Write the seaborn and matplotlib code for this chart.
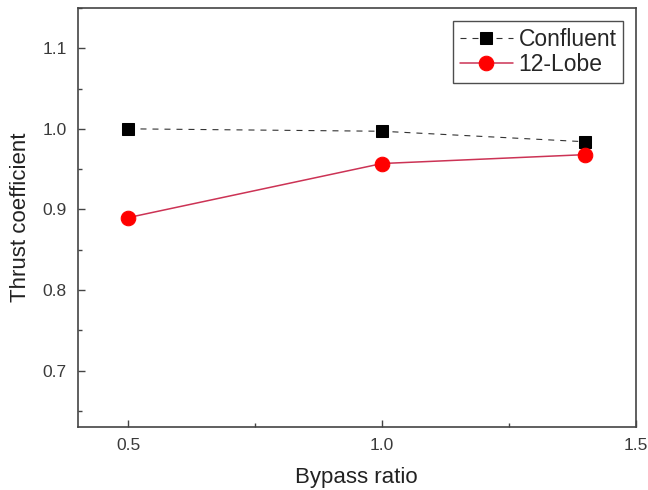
import matplotlib
matplotlib.use("Agg")
import matplotlib.pyplot as plt
from matplotlib.ticker import MultipleLocator
import seaborn as sns
import pandas as pd

# Thrust coefficient versus bypass ratio for two mixer configurations
bypass_ratio = [0.5, 1.0, 1.4]
confluent = [1.000, 0.997, 0.984]
lobe12 = [0.890, 0.957, 0.968]
series_names = ["Confluent", "12-Lobe"]

df = pd.concat([
    pd.DataFrame({"Bypass ratio": bypass_ratio, "Thrust coefficient": confluent, "Mixer": series_names[0]}),
    pd.DataFrame({"Bypass ratio": bypass_ratio, "Thrust coefficient": lobe12, "Mixer": series_names[1]}),
])

sns.set_theme(style="white")
plt.rcParams["font.family"] = ["Liberation Sans", "DejaVu Sans"]

fig = plt.figure(figsize=(6.48, 4.90), dpi=100)
ax = fig.add_axes([0.120, 0.128, 0.861, 0.856])

sns.lineplot(data=df[df["Mixer"] == series_names[0]], x="Bypass ratio", y="Thrust coefficient",
             ax=ax, color="#333333", linestyle=(0, (5.4, 5.4)), linewidth=0.8,
             marker="s", markersize=8.5, markerfacecolor="black", markeredgecolor="black",
             label=series_names[0])
sns.lineplot(data=df[df["Mixer"] == series_names[1]], x="Bypass ratio", y="Thrust coefficient",
             ax=ax, color="#cc3355", linewidth=1.1,
             marker="o", markersize=10.5, markerfacecolor="#ff0000", markeredgecolor="#ff0000",
             label=series_names[1])

ax.set_xlim(0.4, 1.5)
ax.set_ylim(0.63, 1.15)
ax.xaxis.set_major_locator(MultipleLocator(0.5))
ax.xaxis.set_minor_locator(MultipleLocator(0.25))
ax.yaxis.set_major_locator(MultipleLocator(0.1))
ax.yaxis.set_minor_locator(MultipleLocator(0.05))
ax.set_yticks([0.7, 0.8, 0.9, 1.0, 1.1])
ax.set_xticks([0.5, 1.0, 1.5])

for s in ax.spines.values():
    s.set_color("#444444")
    s.set_linewidth(1.2)

ax.tick_params(which="major", direction="in", length=5, width=1, color="#444444",
               labelsize=12.5, labelcolor="#3a3a3a", bottom=True, left=True, top=False, right=False, pad=8)
ax.tick_params(which="minor", direction="in", length=3, width=1, color="#444444",
               bottom=True, left=True, top=False, right=False)

ax.set_xlabel("Bypass ratio", fontsize=16, color="#222222", labelpad=10)
ax.set_ylabel("Thrust coefficient", fontsize=16, color="#222222", labelpad=8)

leg = ax.legend(loc="upper right", bbox_to_anchor=(0.978, 0.968), fontsize=16.5, frameon=True,
                fancybox=False, edgecolor="#222222", handlelength=2.3, borderpad=0.3,
                labelspacing=0.1, handletextpad=0.26, borderaxespad=0.0)
leg.get_frame().set_linewidth(1.0)

fig.savefig("out.png", dpi=100)
